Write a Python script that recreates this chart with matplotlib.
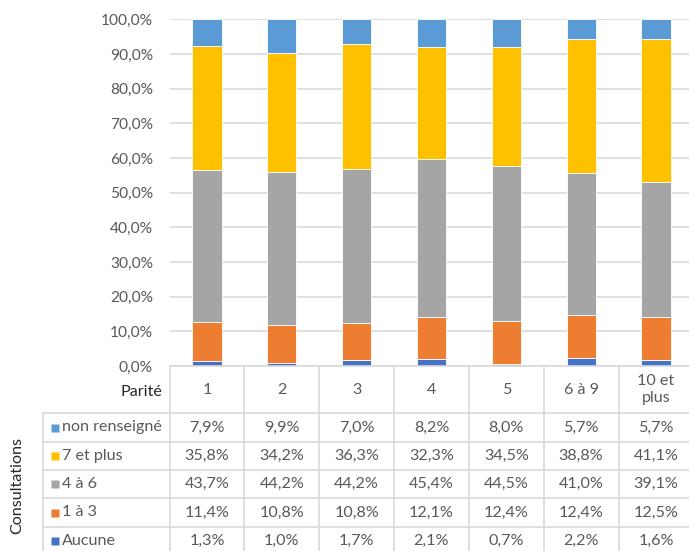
import numpy as np
import matplotlib
matplotlib.use("Agg")
import matplotlib.pyplot as plt

plt.rcParams['font.family'] = ['Lato', 'DejaVu Sans']

# data (percent)
parite = ["1", "2", "3", "4", "5", "6 à 9", "10 et\nplus"]
aucune = [1.3, 1.0, 1.7, 2.1, 0.7, 2.2, 1.6]
un_a_3 = [11.4, 10.8, 10.8, 12.1, 12.4, 12.4, 12.5]
quatre_a_6 = [43.7, 44.2, 44.2, 45.4, 44.5, 41.0, 39.1]
sept_plus = [35.8, 34.2, 36.3, 32.3, 34.5, 38.8, 41.1]
non_renseigne = [7.9, 9.9, 7.0, 8.2, 8.0, 5.7, 5.7]

series_names = ["Aucune", "1 à 3", "4 à 6", "7 et plus", "non renseigné"]
series_vals = [aucune, un_a_3, quatre_a_6, sept_plus, non_renseigne]
colors = ["#4472C4", "#ED7D31", "#A5A5A5", "#FFC000", "#5B9BD5"]

W, H = 689, 551
fig = plt.figure(figsize=(W / 100, H / 100), dpi=100)

# pixel layout
x0_px, x1_px = 169.6, 693.4   # plot area left/right (-0.5 .. 6.5)
y0_px, y1_px = 366, 19.3      # 0% and 100%
leg_left_px = 43
grid_c = "#D9D9D9"
txt_c = "#595959"
fs = 11.6

ax = fig.add_axes([x0_px / W, (H - y0_px) / H, (x1_px - x0_px) / W, (y0_px - y1_px) / H])
x = np.arange(len(parite))
bottom = np.zeros(len(parite))
for name, vals, c in zip(series_names, series_vals, colors):
    v = np.array(vals) / 100
    ax.bar(x, v, bottom=bottom, width=0.39, color=c, edgecolor="white", linewidth=0.6, zorder=3)
    bottom += v

ax.set_xlim(-0.5, 6.5)
ax.set_ylim(0, 1)
ax.set_yticks(np.arange(0, 1.01, 0.1))
ax.set_yticklabels([f"{t*100:.1f}%".replace(".", ",") for t in np.arange(0, 1.01, 0.1)])
ax.tick_params(axis="y", length=0, pad=12, labelsize=11.2, labelcolor=txt_c)
ax.set_xticks([])
ax.yaxis.grid(True, color=grid_c, linewidth=1.2, zorder=0)
for s in ax.spines.values():
    s.set_visible(False)

# data table
units = (x1_px - x0_px) / 7
tl = -0.5 - (x0_px - leg_left_px) / units
tax = fig.add_axes([leg_left_px / W, 0, (x1_px - leg_left_px) / W, (H - y0_px) / H])
tax.set_xlim(tl, 6.5)
tax.set_ylim(H, y0_px)
tax.axis("off")

rows = [413, 442, 470, 498, 527, 555]
tax.plot([-0.5, 6.5], [y0_px, y0_px], color=grid_c, lw=1.2, clip_on=False)
for r in rows:
    tax.plot([tl, 6.5], [r, r], color=grid_c, lw=1.2, clip_on=False)
for b in np.arange(-0.5, 7, 1):
    tax.plot([b, b], [y0_px, rows[-1]], color=grid_c, lw=1.2, clip_on=False)
tax.plot([tl, tl], [rows[0], rows[-1]], color=grid_c, lw=1.2, clip_on=False)

for i, lab in enumerate(parite):
    tax.text(i, (y0_px + rows[0]) / 2, lab, ha="center", va="center",
             fontsize=fs, color=txt_c, linespacing=1.2)
tax.text(-0.59, (y0_px + rows[0]) / 2 + 3, "Parité", ha="right", va="center",
         fontsize=fs, color="#262626")

order = list(range(len(series_names)))[::-1]
for k, si in enumerate(order):
    yc = (rows[k] + rows[k + 1]) / 2
    tax.plot(tl + 11.5 / units, yc, marker="s", ms=6, color=colors[si], mec="none", clip_on=False)
    tax.text(tl + 19 / units, yc, series_names[si], ha="left", va="center",
             fontsize=fs, color=txt_c)
    for i, v in enumerate(series_vals[si]):
        tax.text(i, yc, f"{v:.1f}%".replace(".", ","), ha="center", va="center",
                 fontsize=fs, color=txt_c)

fig.text(17 / W, 1 - 486 / H, "Consultations", rotation=90, ha="center", va="center",
         fontsize=11.6, color="#262626")

fig.savefig("out.png", dpi=100)
